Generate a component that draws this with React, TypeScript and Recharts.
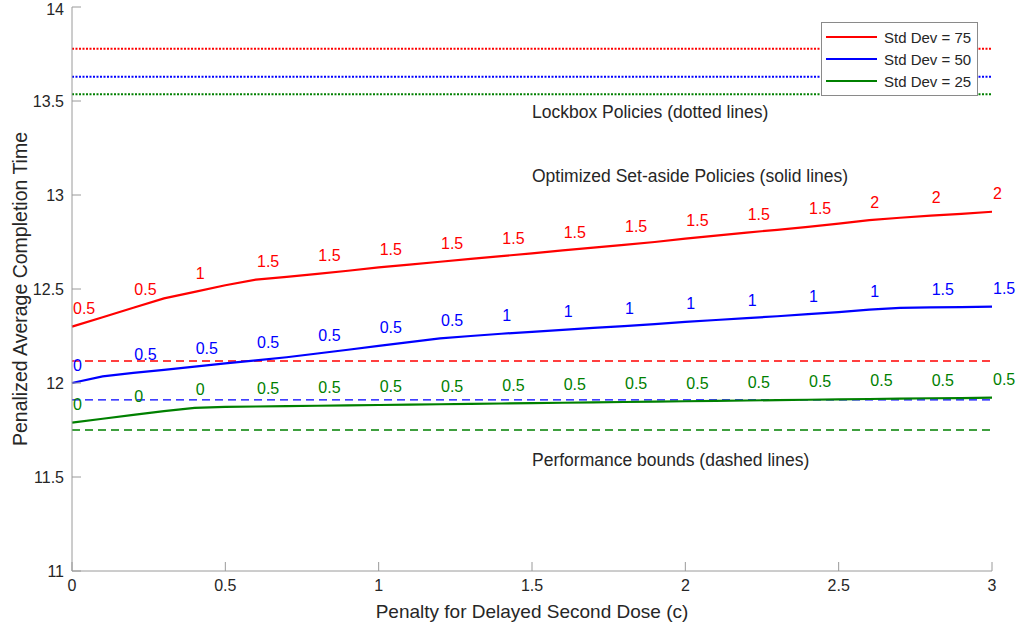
import React from 'react';
import { LineChart, Line, XAxis, YAxis, ReferenceLine, ReferenceDot, LabelList, Legend } from 'recharts';

// penalty c for delayed second dose
const penalty = [0, 0.1, 0.2, 0.3, 0.4, 0.5, 0.6, 0.7, 0.8, 0.9, 1, 1.1, 1.2, 1.3, 1.4, 1.5, 1.6, 1.7, 1.8, 1.9, 2, 2.1, 2.2, 2.3, 2.4, 2.5, 2.6, 2.7, 2.8, 2.9, 3];

// optimized set-aside policies (solid)
const sd75 = [12.3, 12.35, 12.4, 12.45, 12.485, 12.52, 12.55, 12.565, 12.58, 12.597, 12.615, 12.63, 12.645, 12.66, 12.675, 12.69, 12.705, 12.72, 12.735, 12.75, 12.768, 12.784, 12.8, 12.815, 12.83, 12.848, 12.866, 12.879, 12.89, 12.9, 12.911];
const sd50 = [12.0, 12.035, 12.054, 12.07, 12.087, 12.104, 12.12, 12.137, 12.157, 12.177, 12.197, 12.217, 12.237, 12.25, 12.262, 12.272, 12.283, 12.293, 12.303, 12.313, 12.325, 12.335, 12.345, 12.355, 12.366, 12.377, 12.39, 12.4, 12.402, 12.404, 12.406];
const sd25 = [11.789, 11.81, 11.83, 11.85, 11.868, 11.873, 11.875, 11.877, 11.879, 11.881, 11.883, 11.885, 11.887, 11.889, 11.891, 11.893, 11.895, 11.897, 11.899, 11.901, 11.903, 11.905, 11.907, 11.909, 11.911, 11.913, 11.915, 11.917, 11.919, 11.92, 11.922];

// set-aside level labels, every 0.2
const lbl75 = ['0.5', '0.5', '1', '1.5', '1.5', '1.5', '1.5', '1.5', '1.5', '1.5', '1.5', '1.5', '1.5', '2', '2', '2'];
const lbl50 = ['0', '0.5', '0.5', '0.5', '0.5', '0.5', '0.5', '1', '1', '1', '1', '1', '1', '1', '1.5', '1.5'];
const lbl25 = ['0', '0', '0', '0.5', '0.5', '0.5', '0.5', '0.5', '0.5', '0.5', '0.5', '0.5', '0.5', '0.5', '0.5', '0.5'];

// lockbox (dotted) and performance bounds (dashed)
const lockbox = [13.778, 13.629, 13.536];
const bounds = [12.117, 11.91, 11.75];

const seriesNames = ['Std Dev = 75', 'Std Dev = 50', 'Std Dev = 25'];
const colors = ['#ff0000', '#0000ff', '#008000'];

const xTicks = [0, 0.5, 1, 1.5, 2, 2.5, 3];
const yTicks = [11, 11.5, 12, 12.5, 13, 13.5, 14];

const data = penalty.map((p, i) => ({
  p,
  sd75: sd75[i],
  sd50: sd50[i],
  sd25: sd25[i],
  l75: i % 2 === 0 ? lbl75[i / 2] : undefined,
  l50: i % 2 === 0 ? lbl50[i / 2] : undefined,
  l25: i % 2 === 0 ? lbl25[i / 2] : undefined,
}));

const FONT = '"Liberation Sans", Arial, Helvetica, sans-serif';
const AXIS = '#9a9a9a';
const TXT = '#262626';

const policyLabel = (color: string) => (props: any) => {
  const { x, y, value } = props;
  if (value === undefined || value === null) return null;
  return (
    <text x={x + 1} y={y - 18} fill={color} fontSize={16} fontFamily={FONT} textAnchor="start" dominantBaseline="central">
      {value}
    </text>
  );
};

const note = (text: string) => (props: any) => {
  const { viewBox } = props;
  return (
    <text x={viewBox.x} y={viewBox.y} fill={TXT} fontSize={17.5} fontFamily={FONT} dominantBaseline="central">
      {text}
    </text>
  );
};

const renderLegend = () => (
  <div style={{ border: '1px solid #8a8a8a', background: '#fff', padding: '3px 6px 3px 4px', fontFamily: FONT, fontSize: 15, color: TXT }}>
    {seriesNames.map((n, i) => (
      <div key={n} style={{ display: 'flex', alignItems: 'center', height: 22 }}>
        <svg width={52} height={6} style={{ marginRight: 6 }}>
          <line x1={0} y1={3} x2={51} y2={3} stroke={colors[i]} strokeWidth={2} />
        </svg>
        <span>{n}</span>
      </div>
    ))}
  </div>
);

export default function App() {
  return (
    <div style={{ position: 'absolute', left: 0, top: 0, background: '#fff' }}>
      <LineChart width={1020} height={625} data={data} margin={{ top: 7, right: 28, left: 0, bottom: 0 }}>
        <XAxis
          dataKey="p"
          type="number"
          domain={[0, 3]}
          ticks={xTicks}
          height={54}
          tickSize={-9}
          tickMargin={18}
          stroke={AXIS}
          tick={{ fill: TXT, fontSize: 16, fontFamily: FONT }}
          label={{
            content: (props: any) => (
              <text x={props.viewBox.x + props.viewBox.width / 2} y={props.viewBox.y + 40} textAnchor="middle" dominantBaseline="central" fill={TXT} fontSize={19} fontFamily={FONT}>
                Penalty for Delayed Second Dose (c)
              </text>
            ),
          }}
        />
        <XAxis xAxisId="top" orientation="top" dataKey="p" type="number" domain={[0, 3]} ticks={xTicks} height={0} tickSize={-9} tick={false} stroke={AXIS} />
        <YAxis
          type="number"
          domain={[11, 14]}
          ticks={yTicks}
          width={72}
          tickSize={-9}
          tickMargin={17}
          stroke={AXIS}
          tick={{ fill: TXT, fontSize: 16, fontFamily: FONT }}
          label={{
            content: (props: any) => {
              const cx = props.viewBox.x + 20;
              const cy = props.viewBox.y + props.viewBox.height / 2;
              return (
                <text x={cx} y={cy} transform={`rotate(-90 ${cx} ${cy})`} textAnchor="middle" dominantBaseline="central" fill={TXT} fontSize={19.5} fontFamily={FONT}>
                  Penalized Average Completion Time
                </text>
              );
            },
          }}
        />
        <YAxis yAxisId="right" orientation="right" type="number" domain={[11, 14]} ticks={yTicks} width={0} tickSize={-9} tick={false} stroke={AXIS} />

        {lockbox.map((v, i) => (
          <ReferenceLine key={`lb${i}`} y={v} stroke={colors[i]} strokeWidth={2} strokeDasharray="2 1.5" />
        ))}
        {bounds.map((v, i) => (
          <ReferenceLine key={`pb${i}`} y={v} stroke={colors[i]} strokeWidth={1.3} strokeDasharray="8 5" />
        ))}

        <ReferenceDot x={1.5} y={13.44} r={0} stroke="none" fill="none" label={{ content: note('Lockbox Policies (dotted lines)') }} />
        <ReferenceDot x={1.5} y={13.1} r={0} stroke="none" fill="none" label={{ content: note('Optimized Set-aside Policies (solid lines)') }} />
        <ReferenceDot x={1.5} y={11.59} r={0} stroke="none" fill="none" label={{ content: note('Performance bounds (dashed lines)') }} />

        <Line dataKey="sd75" name={seriesNames[0]} stroke={colors[0]} strokeWidth={2.2} dot={false} isAnimationActive={false}>
          <LabelList dataKey="l75" content={policyLabel(colors[0])} />
        </Line>
        <Line dataKey="sd50" name={seriesNames[1]} stroke={colors[1]} strokeWidth={2.2} dot={false} isAnimationActive={false}>
          <LabelList dataKey="l50" content={policyLabel(colors[1])} />
        </Line>
        <Line dataKey="sd25" name={seriesNames[2]} stroke={colors[2]} strokeWidth={2.2} dot={false} isAnimationActive={false}>
          <LabelList dataKey="l25" content={policyLabel(colors[2])} />
        </Line>

        <Legend layout="vertical" align="center" verticalAlign="middle" wrapperStyle={{ left: 821, top: 22, width: 'auto' }} content={renderLegend} />
      </LineChart>
    </div>
  );
}
